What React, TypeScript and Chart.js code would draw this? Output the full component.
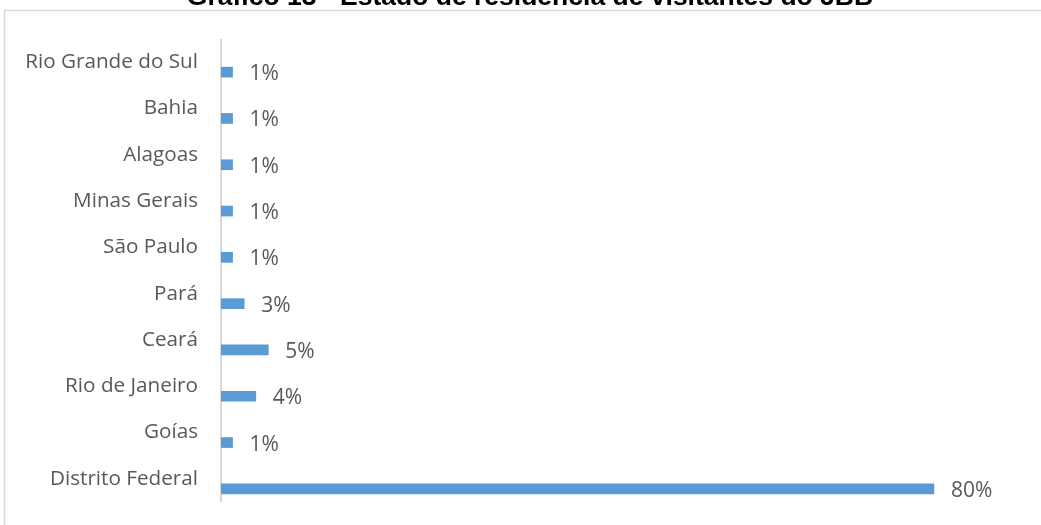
import React, { useEffect, useRef } from "react";
import { Chart, registerables } from "chart.js";

Chart.register(...registerables);

const TITLE = "Gráfico 13 - Estado de residência de visitantes do JBB";

const states = [
  "Rio Grande do Sul",
  "Bahia",
  "Alagoas",
  "Minas Gerais",
  "São Paulo",
  "Pará",
  "Ceará",
  "Rio de Janeiro",
  "Goías",
  "Distrito Federal",
];

const visitorShare = [1.3, 1.3, 1.3, 1.3, 1.3, 2.6, 5.3, 3.9, 1.3, 79.9];

const X_MAX = 90;

const BAR_COLOR = "#5B9BD5";
const TEXT_COLOR = "#595959";
const LINE_COLOR = "#D9D9D9";
const FONT = "'Open Sans', sans-serif";

export default function App() {
  const canvasRef = useRef<HTMLCanvasElement | null>(null);

  useEffect(() => {
    const canvas = canvasRef.current;
    if (!canvas) return;

    const decorPlugin = {
      id: "decor",
      beforeDraw(chart: any) {
        const { ctx, chartArea } = chart;
        ctx.save();
        // outer chart frame
        ctx.strokeStyle = LINE_COLOR;
        ctx.lineWidth = 1.5;
        ctx.strokeRect(4.5, 10.5, 3000, 3000);
        // title (cut at the top)
        ctx.fillStyle = "#000000";
        ctx.font = "bold 26.5px 'Liberation Sans', Arial, sans-serif";
        ctx.textAlign = "center";
        ctx.textBaseline = "alphabetic";
        ctx.fillText(TITLE, 530, 4.5);
        // vertical axis line
        ctx.strokeStyle = LINE_COLOR;
        ctx.lineWidth = 2;
        ctx.beginPath();
        ctx.moveTo(chartArea.left, chartArea.top - 10);
        ctx.lineTo(chartArea.left, chartArea.bottom - 10);
        ctx.stroke();
        ctx.restore();
      },
      afterDatasetsDraw(chart: any) {
        const { ctx } = chart;
        const meta = chart.getDatasetMeta(0);
        const data = chart.data.datasets[0].data as number[];
        ctx.save();
        ctx.fillStyle = TEXT_COLOR;
        ctx.font = `21px ${FONT}`;
        ctx.textAlign = "left";
        ctx.textBaseline = "middle";
        meta.data.forEach((bar: any, i: number) => {
          ctx.fillText(`${Math.round(data[i])}%`, bar.x + 17, bar.y + 2);
        });
        ctx.restore();
      },
    };

    const chart = new Chart(canvas, {
      type: "bar",
      data: {
        labels: states,
        datasets: [
          {
            label: "Visitantes",
            data: visitorShare,
            backgroundColor: BAR_COLOR,
            borderWidth: 0,
            barThickness: 10,
          },
        ],
      },
      options: {
        indexAxis: "y",
        responsive: false,
        maintainAspectRatio: false,
        animation: false,
        layout: { padding: { top: 49, bottom: 13, left: 0, right: 17 } },
        plugins: {
          legend: { display: false },
          tooltip: { enabled: false },
          title: { display: false },
        },
        scales: {
          x: {
            display: false,
            min: 0,
            max: X_MAX,
          },
          y: {
            grid: { display: false, drawTicks: false },
            border: { display: false },
            ticks: {
              color: TEXT_COLOR,
              font: { family: FONT, size: 20.7 },
              padding: 23,
              labelOffset: -10,
              autoSkip: false,
            },
            afterFit(scale: any) {
              scale.width = 221;
              scale.paddingTop = 0;
              scale.paddingBottom = 0;
            },
          },
        },
      },
      plugins: [decorPlugin],
    });

    return () => chart.destroy();
  }, []);

  return (
    <div style={{ position: "absolute", left: 0, top: 0, width: 1041, height: 525, background: "#ffffff" }}>
      <canvas ref={canvasRef} width={1041} height={525} style={{ display: "block" }} />
    </div>
  );
}
